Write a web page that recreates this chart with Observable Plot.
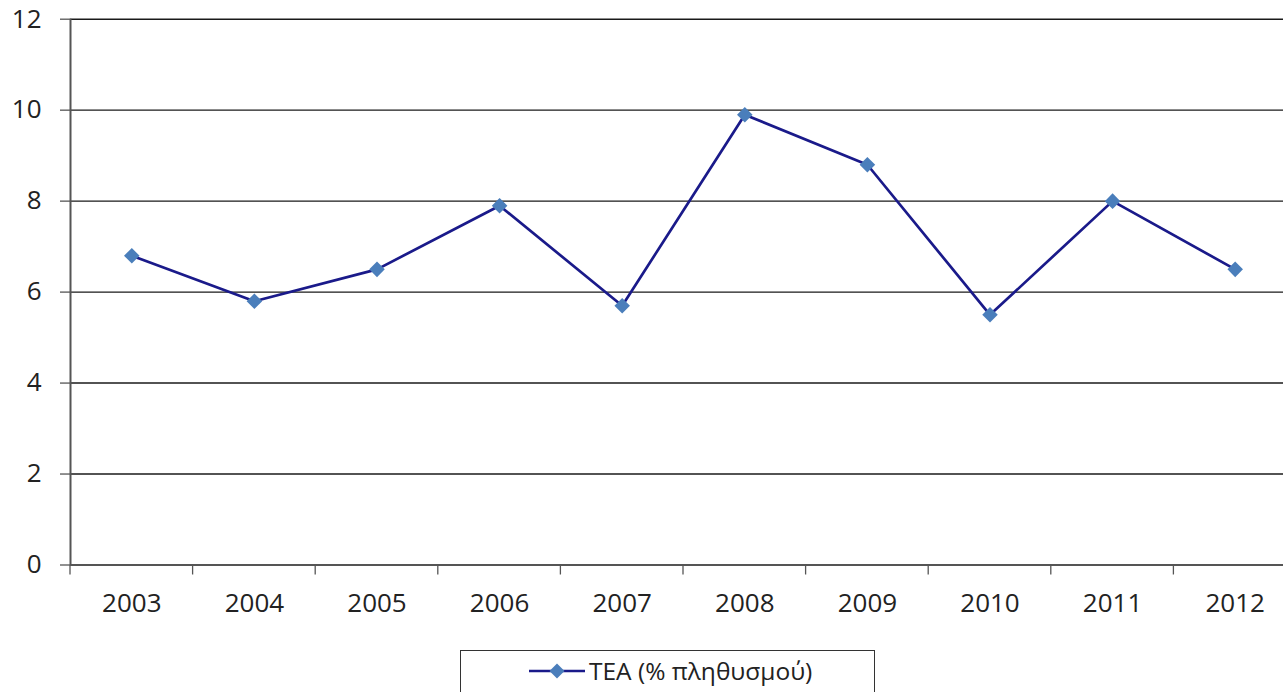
<!DOCTYPE html>
<html>
<head>
<meta charset="utf-8">
<script src="https://cdn.jsdelivr.net/npm/d3@7"></script>
<script src="https://cdn.jsdelivr.net/npm/@observablehq/plot@0.6"></script>
<style>
  html, body { margin: 0; padding: 0; background: #fff; overflow: hidden; width: 1283px; height: 692px; }
  #chart { width: 1296px; }
  #chart svg { display: block; max-width: none !important; }
  #legend {
    position: absolute; left: 460px; top: 650px; width: 415px; height: 60px;
    border: 1px solid #333; box-sizing: border-box; background: #fff;
    font-family: "Open Sans", sans-serif; font-size: 24.5px; color: #222;
  }
  #legend .item { position: absolute; left: 68px; top: 3px; display: flex; align-items: center; }
  #legend svg { margin-right: 4px; }
</style>
</head>
<body>
<div id="chart"></div>
<div id="legend"><div class="item">
  <svg width="56" height="20"><line x1="0" y1="10" x2="56" y2="10" stroke="#1a1a8a" stroke-width="2.5"/><path d="M28,2.5 L35.5,10 L28,17.5 L20.5,10 Z" fill="#4a7ebb"/></svg>
  <span>TEA (% πληθυσμού)</span>
</div></div>
<script>
const years = [2003, 2004, 2005, 2006, 2007, 2008, 2009, 2010, 2011, 2012];
const teaValues = [6.8, 5.8, 6.5, 7.9, 5.7, 9.9, 8.8, 5.5, 8.0, 6.5];
const yTicks = [0, 2, 4, 6, 8, 10, 12];
const seriesName = "TEA (% πληθυσμού)";

const data = years.map((year, i) => ({year, value: teaValues[i], series: seriesName}));
const boundaries = years.map(y => y - 0.5).concat([years[years.length - 1] + 0.5]);

const chart = Plot.plot({
  width: 1296,
  height: 640,
  marginLeft: 70,
  marginRight: 0,
  marginTop: 18.7,
  marginBottom: 640 - 564.5,
  style: {fontFamily: "'Open Sans', sans-serif", fontSize: "26px", color: "#222", background: "#fff"},
  x: {domain: [2002.5, 2012.5], axis: null},
  y: {domain: [0, 12], axis: null},
  marks: [
    Plot.ruleY(yTicks.filter(d => d > 0), {stroke: "#1a1a1a", strokeWidth: 1.4}),
    Plot.ruleY([0], {stroke: "#555", strokeWidth: 2}),
    Plot.ruleX([2002.5], {stroke: "#555", strokeWidth: 2}),
    Plot.axisY({ticks: yTicks, tickSize: 10, tickPadding: 19, stroke: "#555", strokeWidth: 1.3, fontSize: 26, tickFormat: d => String(d), label: null}),
    Plot.axisX({ticks: years, tickSize: 0, tickPadding: 29, fontSize: 26, tickFormat: d => String(d), label: null}),
    Plot.line(data, {x: "year", y: "value", stroke: "#1a1a8a", strokeWidth: 2.7}),
    Plot.dot(data, {x: "year", y: "value", symbol: "diamond2", r: 7, fill: "#4a7ebb", stroke: "none"})
  ]
});
document.getElementById("chart").appendChild(chart);

// Boundary tick marks below the x axis (positions from the chart's scales)
const xs = chart.scale("x");
const ys = chart.scale("y");
d3.select(chart).append("g").selectAll("line").data(boundaries).join("line")
  .attr("x1", d => xs.apply(d)).attr("x2", d => xs.apply(d))
  .attr("y1", ys.apply(0)).attr("y2", ys.apply(0) + 10)
  .attr("stroke", "#555").attr("stroke-width", 1.3);
</script>
</body>
</html>
